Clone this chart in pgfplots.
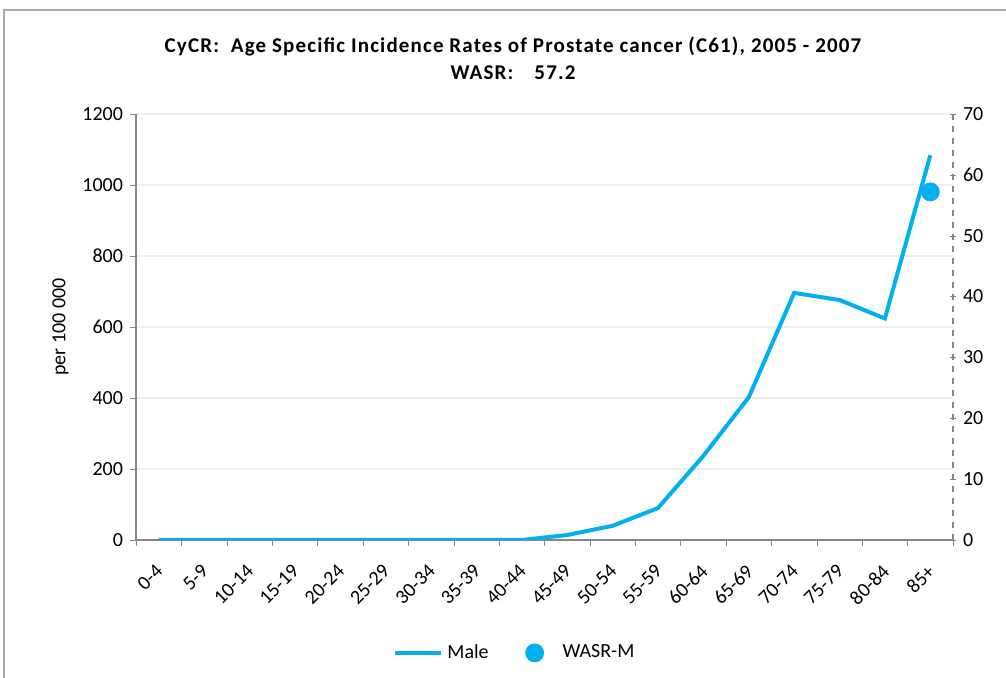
\documentclass[border=0pt]{standalone}
\usepackage{pgfplots}
\pgfplotsset{compat=1.18}
\usepackage{fontspec}
\setmainfont{Carlito}
\definecolor{cyanx}{HTML}{00B0F0}
\definecolor{axgray}{HTML}{868686}
\definecolor{gridg}{HTML}{EEEEEE}
\pgfplotsset{
  lineleg/.style={legend image code/.code={\draw[##1] (0pt,0pt) -- (23pt,0pt);}},
  dotleg/.style={legend image code/.code={\draw[##1] plot coordinates {(5pt,0pt)}; \path[draw=none,fill=none] (0pt,0pt) rectangle (17pt,0.1pt);}},
}
\begin{document}
\begin{tikzpicture}[x=0.5pt,y=0.5pt]
\useasboundingbox (0,0) rectangle (1006,678);
\draw[color=axgray!70, line width=0.8pt] (4,-20) rectangle (1030,668);
\node[font=\bfseries\fontsize{10.5}{13.5}\selectfont\addfontfeature{LetterSpace=5.5}, align=center] at (513,620) {CyCR:\ \ Age Specific Incidence Rates of Prostate cancer (C61), 2005 - 2007\\WASR:\quad 57.2};
\begin{axis}[
  at={(68pt,69pt)}, anchor=south west, scale only axis,
  width=408.5pt, height=213pt,
  xmin=-0.5, xmax=17.5, ymin=0, ymax=1200,
  ytick={0,200,...,1200},
  xtick={0,...,17},
  xticklabels={0-4,5-9,10-14,15-19,20-24,25-29,30-34,35-39,40-44,45-49,50-54,55-59,60-64,65-69,70-74,75-79,80-84,85+},
  minor xtick={-0.5,0.5,...,17.5},
  major x tick style={draw=none},
  minor x tick style={axgray},
  tick align=outside,
  major tick length=3pt, minor tick length=3pt,
  axis x line*=bottom, axis y line*=left,
  axis line style={axgray, line width=0.8pt},
  y tick style={axgray},
  ymajorgrids, grid style={gridg, line width=0.6pt},
  tick label style={font=\fontsize{10}{12}\selectfont},
  /pgf/number format/assume math mode=true,
  /pgf/number format/1000 sep={},
  x tick label style={xshift=-2pt, yshift=-7pt, rotate=45, anchor=north east, inner sep=1pt},
  ylabel={per 100 000},
  ylabel style={font=\fontsize{10}{12}\selectfont},
  legend style={at={(0.465,-0.265)}, anchor=center, draw=none, legend columns=2,
    font=\fontsize{10}{12}\selectfont, column sep=0pt,
    /tikz/every even column/.append style={column sep=16pt},
    nodes={inner sep=2pt}},
]
\addplot[cyanx, line width=2pt, lineleg] coordinates {
(0,0) (1,0) (2,0) (3,0) (4,0) (5,0) (6,0) (7,0) (8,0) (9,14) (10,40) (11,90) (12,237) (13,402) (14,696) (15,676) (16,624) (17,1084)};
\addlegendentry{Male}
\addlegendimage{only marks, mark=*, mark size=4.5pt, cyanx, dotleg}
\addlegendentry{WASR-M}
\end{axis}
\begin{axis}[
  at={(68pt,69pt)}, anchor=south west, scale only axis,
  width=408.5pt, height=213pt,
  xmin=-0.5, xmax=17.5, ymin=0, ymax=70,
  ytick={0,10,...,70},
  axis x line=none, axis y line*=right,
  axis line style={axgray, dashed, line width=0.8pt},
  y tick style={axgray, solid},
  tick align=center, major tick length=3pt,
  tick label style={font=\fontsize{10}{12}\selectfont},
  /pgf/number format/assume math mode=true,
]
\addplot[only marks, mark=*, mark size=4.5pt, cyanx] coordinates {(17,57.2)};
\end{axis}
\end{tikzpicture}
\end{document}
